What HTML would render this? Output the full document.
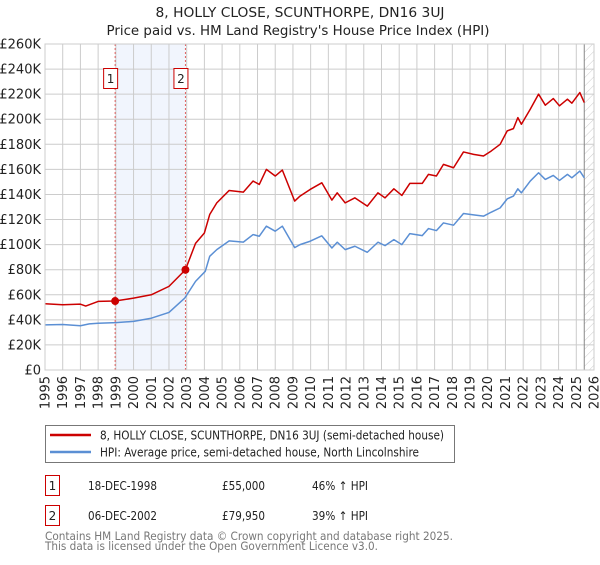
<!DOCTYPE html>
<html><head><meta charset="utf-8"><style>
body{margin:0;background:#fff;font-family:"Liberation Sans","DejaVu Sans",sans-serif;}
svg text{font-family:"DejaVu Sans","Liberation Sans",sans-serif;}
</style></head><body>
<svg width="600" height="560" viewBox="0 0 600 560" xmlns="http://www.w3.org/2000/svg">
<defs><pattern id="hatch" width="6" height="6" patternUnits="userSpaceOnUse" patternTransform="rotate(45)"><line x1="0" y1="0" x2="0" y2="6" stroke="#ccc" stroke-width="1"/></pattern></defs>
<text x="300" y="17" text-anchor="middle" font-size="13" fill="#222" textLength="289" lengthAdjust="spacingAndGlyphs">8, HOLLY CLOSE, SCUNTHORPE, DN16 3UJ</text>
<text x="298" y="35" text-anchor="middle" font-size="13" fill="#222" textLength="383" lengthAdjust="spacingAndGlyphs">Price paid vs. HM Land Registry's House Price Index (HPI)</text>
<g id="plot"></g>
<g>
<rect x="45.5" y="425.5" width="409" height="37" fill="#fff" stroke="#777"/>
<line x1="50" y1="435" x2="91" y2="435" stroke="#cc0000" stroke-width="2.5"/>
<text x="100" y="439.5" font-size="12" fill="#222" textLength="344" lengthAdjust="spacingAndGlyphs">8, HOLLY CLOSE, SCUNTHORPE, DN16 3UJ (semi-detached house)</text>
<line x1="50" y1="452" x2="91" y2="452" stroke="#5b8fd4" stroke-width="2.5"/>
<text x="100" y="456.5" font-size="12" fill="#222" textLength="319" lengthAdjust="spacingAndGlyphs">HPI: Average price, semi-detached house, North Lincolnshire</text>
</g>
<g>
<rect x="45.5" y="475.5" width="14" height="20" fill="#fff" stroke="#cc0000"/>
<text x="52.5" y="490" text-anchor="middle" font-size="12" fill="#222">1</text>
<text x="88" y="490" font-size="12" fill="#222" textLength="69" lengthAdjust="spacingAndGlyphs">18-DEC-1998</text>
<text x="222" y="490" font-size="12" fill="#222" textLength="43" lengthAdjust="spacingAndGlyphs">£55,000</text>
<text x="312" y="490" font-size="12" fill="#222" textLength="56" lengthAdjust="spacingAndGlyphs">46% ↑ HPI</text>
<rect x="45.5" y="505.5" width="14" height="20" fill="#fff" stroke="#cc0000"/>
<text x="52.5" y="520" text-anchor="middle" font-size="12" fill="#222">2</text>
<text x="88" y="520" font-size="12" fill="#222" textLength="69" lengthAdjust="spacingAndGlyphs">06-DEC-2002</text>
<text x="222" y="520" font-size="12" fill="#222" textLength="43" lengthAdjust="spacingAndGlyphs">£79,950</text>
<text x="312" y="520" font-size="12" fill="#222" textLength="56" lengthAdjust="spacingAndGlyphs">39% ↑ HPI</text>
</g>
<text x="45" y="540" font-size="11.5" fill="#777" textLength="408" lengthAdjust="spacingAndGlyphs">Contains HM Land Registry data © Crown copyright and database right 2025.</text>
<text x="45" y="550" font-size="11.5" fill="#777" textLength="333" lengthAdjust="spacingAndGlyphs">This data is licensed under the Open Government Licence v3.0.</text>
</svg>
<script>
const yTicks=[0,20000,40000,60000,80000,100000,120000,140000,160000,180000,200000,220000,240000,260000];
const yTickLabels=["£0","£20K","£40K","£60K","£80K","£100K","£120K","£140K","£160K","£180K","£200K","£220K","£240K","£260K"];
const xYears=[1995,1996,1997,1998,1999,2000,2001,2002,2003,2004,2005,2006,2007,2008,2009,2010,2011,2012,2013,2014,2015,2016,2017,2018,2019,2020,2021,2022,2023,2024,2025,2026];
const hpiYears=[1995,1996,1997,1997.5,1998,1999,2000,2001,2002,2002.9,2003.5,2004.05,2004.3,2004.7,2005.4,2006.2,2006.75,2007.1,2007.5,2008,2008.4,2009.1,2009.4,2009.97,2010.63,2011.2,2011.5,2011.95,2012.5,2013.2,2013.8,2014.2,2014.7,2015.15,2015.6,2016.3,2016.65,2017.1,2017.5,2018.07,2018.63,2019.2,2019.76,2020.2,2020.7,2021.1,2021.45,2021.7,2021.9,2022.4,2022.87,2023.25,2023.7,2024.05,2024.5,2024.75,2025.2,2025.45];
const hpiValues=[36000,36300,35300,36800,37300,37800,38800,41300,45900,57500,70700,78700,90700,96000,103000,102000,108000,106700,114700,110700,114700,97600,100000,102700,107000,97300,101900,96000,98700,93900,101900,99200,104000,100000,108800,107200,112800,111200,117300,115500,124800,123700,122700,125900,129300,136500,138700,144500,141300,150700,157300,152000,155200,151200,156000,153300,158700,153300];
const priceYears=[1995,1996,1997,1997.3,1998,1998.96,2000,2001,2002,2002.93,2003.5,2004,2004.3,2004.7,2005.4,2006.2,2006.75,2007.1,2007.5,2008,2008.4,2009.1,2009.4,2009.97,2010.63,2011.2,2011.5,2011.95,2012.5,2013.2,2013.8,2014.2,2014.7,2015.15,2015.6,2016.3,2016.65,2017.1,2017.5,2018.07,2018.63,2019.2,2019.76,2020.2,2020.7,2021.1,2021.45,2021.7,2021.9,2022.4,2022.87,2023.25,2023.7,2024.05,2024.5,2024.75,2025.2,2025.45];
const priceValues=[52800,52000,52500,51000,54700,55000,57300,60000,66700,79950,101000,109300,124000,133300,143200,141900,150700,148000,160000,154700,159500,134700,138700,144000,149300,135500,141300,133300,137300,130700,141300,137300,144500,139200,148800,148800,156000,154700,164000,161300,173900,172000,170700,174700,180000,190700,192500,201300,196000,208000,220000,211200,216500,210700,216000,212800,221300,213300];
const saleYears=[1998.96,2002.93];
const salePrices=[55000,79950];
const saleLabels=["1","2"];
const dataEndYear=2025.45;

const NS="http://www.w3.org/2000/svg";
const L=45,R=594,T=44,B=370,Y0=1995,Y1=2026,VMAX=260000;
const xs=y=>L+(y-Y0)/(Y1-Y0)*(R-L);
const ys=v=>B-v/VMAX*(B-T);
const plot=document.getElementById('plot');
function mk(tag,attrs){const e=document.createElementNS(NS,tag);for(const k in attrs)e.setAttribute(k,attrs[k]);plot.appendChild(e);return e;}

const shade=mk('rect',{x:xs(saleYears[0]),y:T,width:xs(saleYears[1])-xs(saleYears[0]),height:B-T,fill:'#eef2fc',opacity:0.8});


const hatch=mk('rect',{x:xs(dataEndYear),y:T,width:R-xs(dataEndYear),height:B-T,fill:'url(#hatch)'});



yTicks.forEach((v,i)=>{
  const g=mk('line',{x1:L,x2:R,y1:ys(v),y2:ys(v),stroke:'#cccccc','stroke-width':1});
  
  
  const t=mk('text',{x:L-4,y:ys(v)+4.5,'text-anchor':'end','font-size':13,fill:'#222'});
  t.textContent=yTickLabels[i];
  
  
});
xYears.forEach(yr=>{
  const g=mk('line',{x1:xs(yr),x2:xs(yr),y1:T,y2:B,stroke:'#cccccc','stroke-width':1});
  
  
  const t=mk('text',{transform:`translate(${xs(yr)+4.5},376) rotate(-90)`,'text-anchor':'end','font-size':13,fill:'#222'});
  t.textContent=String(yr);
  
  
});
const endLine=mk('line',{x1:xs(dataEndYear),x2:xs(dataEndYear),y1:T,y2:B,stroke:'#888','stroke-width':1});



saleYears.forEach((yr,i)=>{
  const v=mk('line',{x1:xs(yr),x2:xs(yr),y1:T,y2:B,stroke:'#e06060','stroke-width':1,'stroke-dasharray':'2,2'});
  
  
});

const hp=mk('polyline',{points:hpiYears.map((y,i)=>xs(y)+','+ys(hpiValues[i])).join(' '),fill:'none',stroke:'#5b8fd4','stroke-width':1.5,'stroke-linejoin':'round'});


const pp=mk('polyline',{points:priceYears.map((y,i)=>xs(y)+','+ys(priceValues[i])).join(' '),fill:'none',stroke:'#cc0000','stroke-width':1.5,'stroke-linejoin':'round'});



saleYears.forEach((yr,i)=>{
  const c=mk('circle',{cx:xs(yr),cy:ys(salePrices[i]),r:4,fill:'#cc0000'});
  
  
  const bx=mk('rect',{x:xs(yr)-11.5,y:68.5,width:14,height:20,fill:'#fff',stroke:'#cc0000'});
  
  
  const t=mk('text',{x:xs(yr)-4.5,y:83,'text-anchor':'middle','font-size':12,fill:'#222'});
  t.textContent=saleLabels[i];
  
  
});
const frame=mk('rect',{x:L,y:T,width:R-L,height:B-T,fill:'none',stroke:'#cccccc'});


</script>
</body></html>
